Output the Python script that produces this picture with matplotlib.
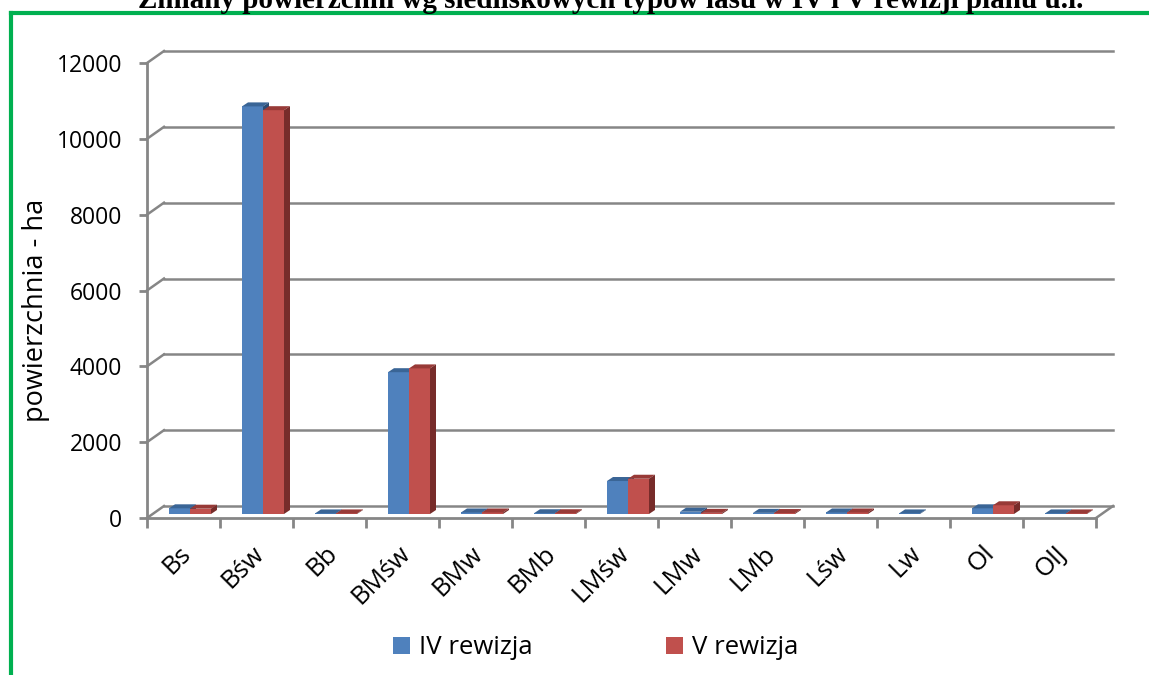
import matplotlib.pyplot as plt
import matplotlib.transforms as mtransforms
from matplotlib.patches import Polygon, Patch
from matplotlib.lines import Line2D

# dane
kategorie = ['Bs', 'Bśw', 'Bb', 'BMśw', 'BMw', 'BMb', 'LMśw', 'LMw', 'LMb', 'Lśw', 'Lw', 'Ol', 'OlJ']
rew_iv = [150, 10750, 15, 3740, 40, 20, 870, 60, 30, 40, 15, 150, 15]
rew_v = [140, 10650, 15, 3840, 40, 20, 930, 30, 25, 40, 0, 230, 15]
serie = ['IV rewizja', 'V rewizja']
y_ticks = [0, 2000, 4000, 6000, 8000, 10000, 12000]
tytul = 'Zmiany powierzchni wg siedliskowych typów lasu w IV i V rewizji planu u.l.'
y_opis = 'powierzchnia - ha'

# kolory (przód, góra, bok)
kol_iv = ('#4F81BD', '#3A6596', '#2C4D75')
kol_v = ('#C0504D', '#983A37', '#772C2A')
szary = '#868686'

W, H = 1149, 675
fig = plt.figure(figsize=(W / 100, H / 100), dpi=100)
fig.patch.set_facecolor('white')

# geometria pseudo 3D w pikselach
PX_CAT = 73.0
PX_Y = 455 / 12000
n = len(kategorie)
DX = 17 / PX_CAT
DY = 12 / PX_Y
left_px, floor_px = 147, 518
ax_w = (n + DX) * PX_CAT
ax_h = (12000 + DY) * PX_Y
ax = fig.add_axes([left_px / W, (H - floor_px) / H, ax_w / W, ax_h / H])
ax.set_xlim(-0.5, n - 0.5 + DX)
ax.set_ylim(0, 12000 + DY)
ax.patch.set_alpha(0)

for s in ['top', 'right']:
    ax.spines[s].set_visible(False)
for s in ['left', 'bottom']:
    ax.spines[s].set_color(szary)
    ax.spines[s].set_linewidth(2)
ax.spines['left'].set_bounds(0, 12000)
ax.spines['bottom'].set_bounds(-0.5, n - 0.5)

# tylna ściana i podłoga
for v in y_ticks:
    ax.plot([-0.5, -0.5 + DX], [v, v + DY], color=szary, lw=1.8, zorder=1, clip_on=False)
    ax.plot([-0.5 + DX, n - 0.5 + DX], [v + DY, v + DY], color=szary, lw=1.8, zorder=1, clip_on=False)
ax.plot([n - 0.5, n - 0.5 + DX], [0, DY], color=szary, lw=1.8, zorder=1, clip_on=False)

# osie
font = 'Open Sans'
ax.set_yticks(y_ticks)
ax.set_yticklabels([str(v) for v in y_ticks], fontfamily=font, fontsize=16.5)
ax.tick_params(axis='y', direction='out', length=6, width=2, color=szary, pad=12)

x = list(range(n))
ax.set_xticks(x)
ax.set_xticklabels(kategorie, fontfamily=font, fontsize=18.5, rotation=45,
                   ha='right', va='center', rotation_mode='anchor')
ax.set_xticks([i - 0.5 for i in range(n + 1)], minor=True)
ax.tick_params(axis='x', which='major', length=0, pad=23)
ax.tick_params(axis='x', which='minor', direction='out', length=7, width=2, color=szary)
przes = mtransforms.ScaledTranslation(4 / 100, 0, fig.dpi_scale_trans)
for lbl in ax.get_xticklabels():
    lbl.set_transform(lbl.get_transform() + przes)

ax.set_ylabel(y_opis, fontfamily=font, fontsize=19.5)
ax.yaxis.set_label_coords((50 - left_px) / ax_w, (floor_px - 310) / ax_h)

# słupki
w = 21 / PX_CAT
BX = 6.5 / PX_CAT
BY = 4 / PX_Y
ddx = 6 / PX_CAT
ddy = 4 / PX_Y

def slupek(x0, v, kol, z):
    if v <= 0:
        return
    ax.bar(x0, v, width=w, bottom=BY, align='edge', color=kol[0], zorder=z)
    top = v + BY
    ax.add_patch(Polygon([(x0, top), (x0 + w, top), (x0 + w + ddx, top + ddy), (x0 + ddx, top + ddy)],
                         closed=True, facecolor=kol[1], edgecolor='none', zorder=z))
    ax.add_patch(Polygon([(x0 + w, BY), (x0 + w, top), (x0 + w + ddx, top + ddy), (x0 + w + ddx, BY + ddy)],
                         closed=True, facecolor=kol[2], edgecolor='none', zorder=z))

for i in range(n):
    slupek(i + BX - w, rew_iv[i], kol_iv, 3)
    slupek(i + BX, rew_v[i], kol_v, 4)

# legenda
uchwyty = [Patch(facecolor=kol_iv[0]), Patch(facecolor=kol_v[0])]
fig.legend(uchwyty, serie, loc='center left', bbox_to_anchor=(393 / W, 1 - 648 / H),
           ncol=2, frameon=False, borderpad=0, borderaxespad=0, handlelength=0.66, handleheight=0.66,
           handletextpad=0.35, columnspacing=5.2, prop={'family': font, 'size': 18.5})

# tytuł (ucięty u góry)
fig.text((132 + 1090) / 2 / W, 1 - 8 / H, tytul, ha='center', va='baseline',
         fontfamily='Liberation Serif', fontweight='bold', fontsize=21)

# zielona ramka
fig.add_artist(Line2D([11 / W, 11 / W], [0, 1 - 13 / H], color='#00B050', lw=3, transform=fig.transFigure))
fig.add_artist(Line2D([11 / W, 1], [1 - 13 / H, 1 - 13 / H], color='#00B050', lw=3, transform=fig.transFigure))

fig.savefig('out.png', dpi=100)
